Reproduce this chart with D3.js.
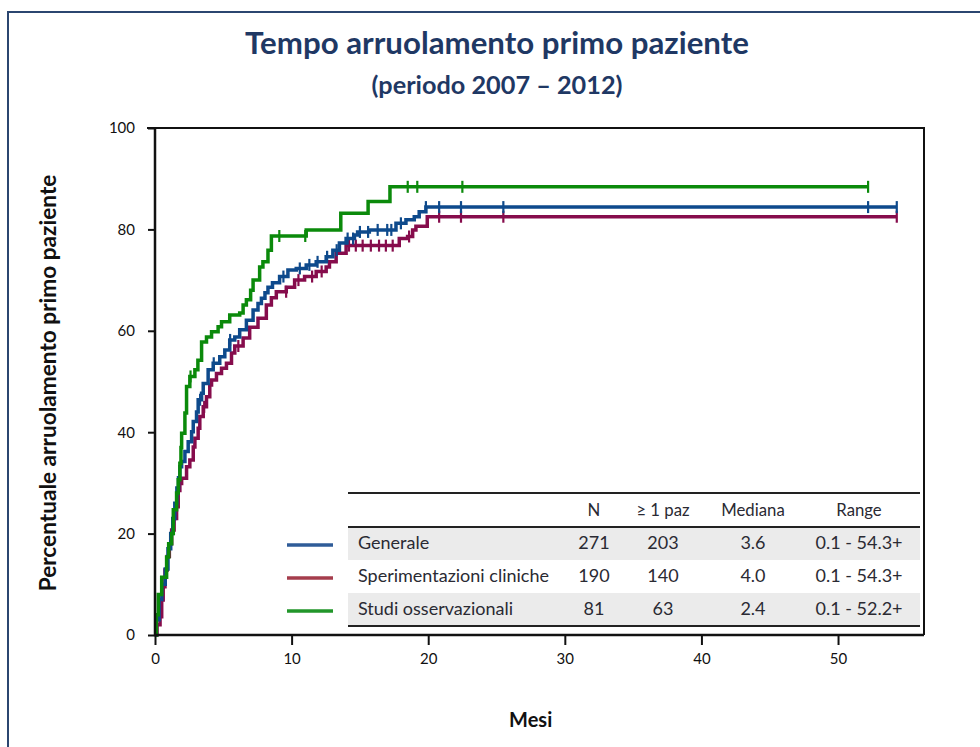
<!DOCTYPE html>
<html>
<head>
<meta charset="utf-8">
<script src="https://cdn.jsdelivr.net/npm/d3@7"></script>
<style>
  body { margin: 0; background: #fff; }
  svg { display: block; }
</style>
</head>
<body>
<svg id="chart"></svg>
<script>
// Dati (mesi, percentuale cumulata)
const generaleSteps = [
  [0,0],[0.1,3],[0.3,7],[0.5,10],[0.75,13],[0.95,17],[1.15,20],[1.3,23],[1.45,26],[1.6,29],
  [1.72,31],[1.82,33.2],[1.95,34.2],[2.19,36.2],[2.43,38.1],[2.68,40.1],[2.8,42.1],[3.04,44],
  [3.16,46.4],[3.41,47.7],[3.53,49.6],[3.89,52.3],[4.26,53.6],[4.74,54.9],[5.11,56.2],[5.47,58.2],
  [5.84,58.8],[6.2,60.2],[6.69,62.1],[7.18,64.1],[7.54,65.4],[7.79,66.4],[8.05,67.5],[8.27,68.6],
  [8.6,69.5],[9.12,70.7],[9.73,72],[10.34,72.3],[11.07,73],[11.8,73.6],[12.53,74.6],[13.02,75.9],
  [13.5,77.3],[13.99,78.2],[14.6,78.9],[14.83,79.5],[15.69,79.9],[17.64,81.2],[18.37,81.9],
  [18.98,82.5],[19.34,83.5],[19.83,84.4]
];
const sperimentazioniSteps = [
  [0,0],[0.15,2],[0.37,3.6],[0.49,6.9],[0.6,9.5],[0.73,12.8],[0.9,15.5],[1.05,18],[1.22,20.7],
  [1.4,23],[1.58,25.3],[1.7,28.5],[1.82,29.9],[1.95,30.9],[2.31,33.2],[2.55,34.5],[2.8,37.1],
  [2.92,38.8],[3.16,40.8],[3.28,43.1],[3.53,45],[3.77,47],[4.01,49.3],[4.14,50.3],[4.5,51.6],
  [4.87,52.6],[5.23,53.6],[5.6,55.6],[5.84,57],[6.45,58.6],[6.93,60.7],[7.54,62.5],[8.15,65.1],
  [8.52,66.5],[8.88,67.7],[9.61,68.6],[10.22,70],[10.95,70.7],[11.8,71.7],[12.53,72.6],
  [12.77,73.6],[13.26,75.3],[13.99,76.8],[17.88,78.2],[18.49,78.6],[18.86,79.9],[19.1,80.6],
  [19.93,82.5]
];
const osservazionaliSteps = [
  [0,0],[0.1,4],[0.24,8],[0.49,11.4],[0.85,15.4],[1.0,18],[1.22,20],[1.34,24.7],[1.58,28],
  [1.7,30.6],[1.82,33.9],[1.9,37],[1.95,39.8],[2.19,43.8],[2.31,49],[2.55,51],[2.92,52.3],
  [3.14,54.2],[3.41,57.8],[3.77,58.8],[4.14,59.8],[4.62,60.8],[4.87,61.8],[5.47,63.1],[6.2,63.5],
  [6.45,65.1],[6.69,66.1],[7.0,68],[7.18,70],[7.66,72.6],[7.9,73.6],[8.27,75.9],[8.52,78.7],
  [11.07,79.9],[13.6,83.2],[15.6,85.5],[17.2,88.4]
];

// Osservazioni censurate (mesi)
const generaleCens = [1.4,3.3,4.3,5.5,9.4,10.6,11.3,11.9,12.6,13.3,14.1,14.5,15.0,15.6,16.3,17.0,17.3,18.0,19.83,20.8,22.4,25.5,52.2,54.3];
const sperimentazioniCens = [3.6,6.1,9.6,10.5,11.5,12.2,14.2,14.7,15.2,15.8,16.4,16.9,17.4,18.6,20.8,22.4,25.5,54.3];
const osservazionaliCens = [2.6,9.1,11.0,18.5,19.2,22.5,52.2];

// Fine del follow-up
const seriesEnd = [54.3, 54.3, 52.2];

// Tabella
const tableHeader = ["N", "≥ 1 paz", "Mediana", "Range"];
const tableLabels = ["Generale", "Sperimentazioni cliniche", "Studi osservazionali"];
const tableN = [271, 190, 81];
const tablePaz = [203, 140, 63];
const tableMediana = ["3.6", "4.0", "2.4"];
const tableRange = ["0.1 - 54.3+", "0.1 - 54.3+", "0.1 - 52.2+"];

const xTicks = [0, 10, 20, 30, 40, 50];
const yTicks = [0, 20, 40, 60, 80, 100];

const width = 980, height = 747;
const margin = { left: 155, top: 128, right: 60, bottom: 112 };
const navy = "#1f3864";
const lineColors = ["#0e4a8c", "#860c4c", "#0b8a0b"];
const swatchColors = ["#2f5c98", "#a53d4c", "#22962a"];
const fontFam = "Lato, 'Open Sans', sans-serif";

const svg = d3.select("#chart")
    .attr("width", width)
    .attr("height", height)
    .style("font-family", fontFam);

function fit(sel, w) {
  const len = sel.node().getComputedTextLength();
  const fs = parseFloat(sel.attr("font-size"));
  sel.attr("font-size", fs * w / len);
}

// cornice esterna
svg.append("rect")
    .attr("x", 8).attr("y", 12)
    .attr("width", 1000).attr("height", 800)
    .attr("fill", "none")
    .attr("stroke", "#2b4670")
    .attr("stroke-width", 2);

// titolo
const title = svg.append("text")
    .attr("x", 497).attr("y", 54)
    .attr("text-anchor", "middle")
    .attr("font-size", 26)
    .attr("font-weight", "bold")
    .attr("fill", navy)
    .text("Tempo arruolamento primo paziente");
fit(title, 504);

const subtitle = svg.append("text")
    .attr("x", 497).attr("y", 94)
    .attr("text-anchor", "middle")
    .attr("font-size", 20)
    .attr("font-weight", "bold")
    .attr("fill", navy)
    .text("(periodo 2007 – 2012)");
fit(subtitle, 251);

const x = d3.scaleLinear().domain([0, 56]).range([margin.left, width - margin.right]);
const y = d3.scaleLinear().domain([0, 100]).range([height - margin.bottom, margin.top]);

// riquadro
svg.append("path")
    .attr("d", `M${x(0) - 8},${y(100)}H${x(56) + 4}V${y(0)}`)
    .attr("fill", "none")
    .attr("stroke", "#111")
    .attr("stroke-width", 2);

// tabella (dietro le curve)
const rowY = [543, 576, 609];
const colX = [594, 663, 753, 859];
const tLeft = 348, tRight = 920;

const tg = svg.append("g").attr("fill", "#2a2a33");
tg.selectAll("rect.bg")
  .data([0, 2])
  .join("rect")
    .attr("class", "bg")
    .attr("x", tLeft).attr("width", tRight - tLeft)
    .attr("y", i => rowY[i] - 16).attr("height", 33)
    .attr("fill", "#ebebeb");

tg.selectAll("line.rule")
  .data([493, 527, 626])
  .join("line")
    .attr("class", "rule")
    .attr("x1", tLeft).attr("x2", tRight)
    .attr("y1", d => d).attr("y2", d => d)
    .attr("stroke", "#222")
    .attr("stroke-width", 2);

const probe = tg.append("text")
    .attr("x", 358).attr("y", rowY[1])
    .attr("dy", "0.35em")
    .attr("font-size", 14)
    .text(tableLabels[1]);
fit(probe, 191);
const tableFs = parseFloat(probe.attr("font-size"));
probe.remove();

tg.selectAll("text.head")
  .data(tableHeader)
  .join("text")
    .attr("class", "head")
    .attr("x", (d, i) => colX[i]).attr("y", 510)
    .attr("dy", "0.35em")
    .attr("text-anchor", "middle")
    .attr("font-size", tableFs * 0.93)
    .text(d => d);

tableLabels.forEach((lab, i) => {
  const cells = [tableN[i], tablePaz[i], tableMediana[i], tableRange[i]];
  tg.append("text")
      .attr("x", 358).attr("y", rowY[i])
      .attr("dy", "0.35em")
      .attr("font-size", tableFs)
      .text(lab);
  cells.forEach((c, j) => {
    tg.append("text")
        .attr("x", colX[j]).attr("y", rowY[i])
        .attr("dy", "0.35em")
        .attr("text-anchor", "middle")
        .attr("font-size", tableFs)
        .text(c);
  });
  svg.append("line")
      .attr("x1", 287).attr("x2", 333)
      .attr("y1", rowY[i] + 2).attr("y2", rowY[i] + 2)
      .attr("stroke", swatchColors[i])
      .attr("stroke-width", 3.5);
});

// curve di Kaplan-Meier
const allSteps = [generaleSteps, sperimentazioniSteps, osservazionaliSteps];
const allCens = [generaleCens, sperimentazioniCens, osservazionaliCens];
const bis = d3.bisector(d => d[0]).right;
const valueAt = (steps, t) => steps[Math.max(0, bis(steps, t) - 1)][1];

const line = d3.line()
    .x(d => x(d[0]))
    .y(d => y(d[1]))
    .curve(d3.curveStepAfter);

[1, 0, 2].forEach(k => {
  const steps = allSteps[k];
  const pts = steps.concat([[seriesEnd[k], steps[steps.length - 1][1]]]);
  const g = svg.append("g");
  g.append("path")
      .datum(pts)
      .attr("d", line)
      .attr("fill", "none")
      .attr("stroke", lineColors[k])
      .attr("stroke-width", 3.5);
  g.selectAll("line")
    .data(allCens[k])
    .join("line")
      .attr("x1", d => x(d)).attr("x2", d => x(d))
      .attr("y1", d => y(valueAt(steps, d)) - 6)
      .attr("y2", d => y(valueAt(steps, d)) + 6)
      .attr("stroke", lineColors[k])
      .attr("stroke-width", 2.2);
});

// assi
const yAxis = svg.append("g")
    .attr("transform", `translate(${x(0)},0)`)
    .call(d3.axisLeft(y).tickValues(yTicks).tickSize(7).tickPadding(13).tickFormat(d3.format("d")));
const xAxis = svg.append("g")
    .attr("transform", `translate(0,${y(0)})`)
    .call(d3.axisBottom(x).tickValues(xTicks).tickSize(10).tickPadding(8).tickFormat(d3.format("d")));

[yAxis, xAxis].forEach(a => {
  a.select(".domain").remove();
  a.selectAll(".tick line").attr("stroke", "#111").attr("stroke-width", 2);
  a.selectAll(".tick text")
      .attr("font-family", fontFam)
      .attr("font-size", 15)
      .attr("fill", "#111");
});
svg.append("path")
    .attr("d", `M${x(0)},${y(100)}V${y(0)}H${x(56) + 4}`)
    .attr("fill", "none")
    .attr("stroke", "#111")
    .attr("stroke-width", 2.5);

// titoli degli assi
svg.append("text")
    .attr("x", x(27.5)).attr("y", 727)
    .attr("text-anchor", "middle")
    .attr("font-size", 20)
    .attr("font-weight", "bold")
    .attr("fill", "#111")
    .text("Mesi");

const ylab = svg.append("text")
    .attr("transform", `translate(56,383) rotate(-90)`)
    .attr("text-anchor", "middle")
    .attr("font-size", 16)
    .attr("font-weight", "bold")
    .attr("fill", "#111")
    .text("Percentuale arruolamento primo paziente");
fit(ylab, 417);
</script>
</body>
</html>
